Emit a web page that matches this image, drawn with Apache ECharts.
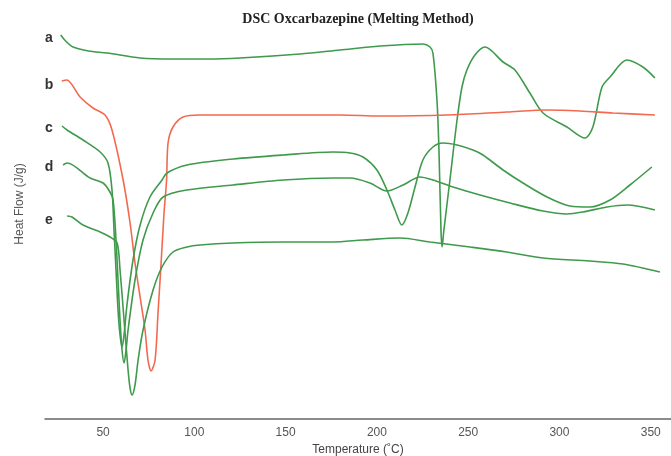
<!DOCTYPE html>
<html>
<head>
<meta charset="utf-8">
<script src="https://cdn.jsdelivr.net/npm/echarts@6/dist/echarts.min.js"></script>
<style>html,body{margin:0;padding:0;background:#fff}#c{width:671px;height:456px}</style>
</head>
<body>
<div id="c"></div>
<script>
// Temperature (°C) / heat flow (arbitrary units, stacked curves)
const curveA = [[26.8,384],[29.5,378],[33.6,372],[42,368],[52.2,366],[70.3,361],[88.3,360],[107,360],[125,361],[157.9,365],[179.8,369],[201.7,373],[225.2,375],[229.1,372],[230.7,366],[232.9,319],[234.0,269],[235.1,189],[235.7,172],[236.7,189],[240.0,239],[243.9,299],[246.6,332],[249.3,349],[253.7,364],[259.2,372],[269.1,357],[275.6,349],[283.8,326],[291.0,306],[304.1,292],[314.0,281],[318.3,292],[323.3,332],[327.7,342],[336.9,359],[345.7,352],[352.3,341]];
const curveB = [[27.4,338],[30.1,339],[37.4,322],[44.5,311],[51.1,304],[54.9,289],[61.0,239],[64.8,196],[67.5,156],[70.3,122],[73.0,89],[74.6,59],[76.3,48],[78.5,59],[80.1,106],[81.8,156],[83.4,206],[84.8,239],[85.6,276],[88.3,292],[93.8,302],[103.1,304],[179.8,304],[201.7,303],[238.4,304],[271.2,307],[293.2,309],[311.2,308],[329.3,306],[352.3,304]];
const curveC = [[27.5,293],[30.3,289],[39.0,279],[48.4,267],[52.7,256],[54.9,229],[56.0,189],[57.1,149],[58.2,109],[59.3,84],[60.4,72],[61.5,84],[63.1,114],[66.4,159],[70.3,194],[75.7,222],[82.3,239],[85.0,246],[96.0,254],[121.2,260],[148.6,264],[175.9,267],[185.3,266],[192.4,262],[200.0,249],[205.5,229],[209.9,209],[213.7,194],[217.0,206],[220.9,232],[225.2,259],[230.7,272],[236.2,276],[243.9,274],[252.6,269],[258.1,264],[269.1,249],[280.0,236],[293.2,222],[305.7,213],[316.7,212],[327.7,219],[338.6,234],[350.6,252]];
const curveD = [[28.1,254],[30.3,256],[42.9,241],[50.0,236],[53.8,227],[55.5,219],[57.1,179],[58.2,139],[59.3,99],[60.4,69],[61.5,56],[62.6,69],[63.7,89],[67.5,139],[71.9,179],[77.4,206],[82.9,222],[96.0,229],[121.2,234],[148.6,239],[175.9,241],[185.3,241],[196.2,236],[205.5,228],[214.3,234],[223.6,242],[230.7,239],[241.7,232],[256.5,224],[272.9,216],[291.0,208],[304.1,205],[312.9,207],[326.0,212],[337.0,214],[352.3,209]];
const curveE = [[30.3,203],[33.0,202],[39.0,194],[48.4,187],[53.8,182],[57.7,176],[59.3,149],[61.5,99],[63.7,49],[64.8,31],[65.9,24],[67.5,34],[69.2,59],[71.9,89],[77.4,129],[82.3,152],[88.3,167],[96.0,172],[103.1,174],[121.2,176],[148.6,177],[175.9,177],[192.4,179],[212.6,181],[229.1,177],[251.0,172],[271.2,167],[291.0,161],[316.7,158],[334.8,155],[355.0,147]];
const xTicks = [50,100,150,200,250,300,350];
const curveLabels = ['a','b','c','d','e'];
const labelY = [38,85,128,167,220];

const green = '#3f9a4c', red = '#f3694f';
const chart = echarts.init(document.getElementById('c'), null, {renderer:'canvas'});
const mk = (d,c) => ({type:'line', data:d, showSymbol:false, smooth:0.3, lineStyle:{color:c,width:1.6}, silent:true});
const labelEls = curveLabels.map((t,i)=>({type:'text', x:49, y:labelY[i],
    style:{text:t, font:'bold 14px Liberation Sans', fill:'#333', textAlign:'center', textVerticalAlign:'middle'}}));
labelEls.push({type:'text', x:20, y:204, rotation:Math.PI/2,
    style:{text:'Heat Flow (J/g)', font:'12px Liberation Sans', fill:'#555', textAlign:'center', textVerticalAlign:'middle'}});
chart.setOption({
  animation:false,
  title:{text:'DSC Oxcarbazepine (Melting Method)', left:353, top:7, textAlign:'center',
    textStyle:{fontFamily:'Liberation Serif', fontWeight:'bold', fontSize:14, color:'#222'}},
  grid:{left:45, right:0, top:19, bottom:37, outerBoundsMode:'none', containLabel:false},
  xAxis:{type:'value', min:18.2, max:361.1,
    axisLine:{lineStyle:{color:'#666', width:1.5}}, axisTick:{show:false}, splitLine:{show:false},
    axisLabel:{customValues:xTicks, color:'#555', fontFamily:'Liberation Sans', fontSize:12, margin:8},
    name:'Temperature (˚C)', nameLocation:'middle', nameGap:25,
    nameTextStyle:{color:'#444', fontFamily:'Liberation Sans', fontSize:12}},
  yAxis:{type:'value', min:0, max:400, show:false},
  graphic: labelEls,
  series:[mk(curveA,green), mk(curveB,red), mk(curveC,green), mk(curveD,green), mk(curveE,green)]
});
</script>
</body>
</html>
